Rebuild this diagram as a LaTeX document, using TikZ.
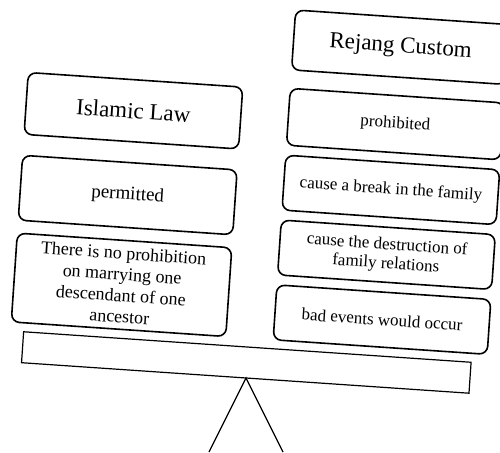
\documentclass[tikz,border=0pt]{standalone}
\usepackage{fontspec}
\setmainfont{Liberation Serif}
\begin{document}
\begin{tikzpicture}[x=1pt,y=1pt,
  card/.style={draw, line width=1.6pt, rounded corners=8pt, align=center, inner sep=2pt, transform shape},
  lcard/.style={card, minimum width=215pt},
  rcard/.style={card, minimum width=214.5pt},
  head/.style={font=\fontsize{23}{26}\selectfont},
  small/.style={font=\fontsize{17}{19}\selectfont},
  plankstyle/.style={draw, line width=1.2pt},
  leg/.style={line width=1.2pt}]
\useasboundingbox (0,0) rectangle (500,452);
\coordinate (pivot) at (246,74);
\coordinate (footL) at (209,0);
\coordinate (footR) at (283,0);
\begin{scope}[shift={(pivot)}, rotate=-3.9]
  \draw[plankstyle] (-225,0) rectangle (223.5,31);
  % left column
  \node[lcard, head, minimum height=62pt] (islam) at (-130.5,259) {Islamic Law};
  \node[lcard, font=\fontsize{19}{21}\selectfont, minimum height=65pt] (perm) at (-130.5,174.5) {permitted};
  \node[lcard, font=\fontsize{18}{21.2}\selectfont, minimum height=89pt] (noprob) at (-130.5,84.5) {There is no prohibition\\on marrying one\\descendant of one\\ancestor};
  % right column
  \node[rcard, head, minimum height=60pt] (rejang) at (131.75,340.5) {Rejang Custom};
  \node[rcard, small, minimum height=57pt] (proh) at (131.75,263.5) {prohibited};
  \node[rcard, small, minimum height=55pt] (break) at (131.75,197.5) {cause a break in the family};
  \node[rcard, small, minimum height=55pt] (destr) at (131.75,132.5) {cause the destruction of\\family relations};
  \node[rcard, small, minimum height=55pt] (bad) at (131.75,67.5) {bad events would occur};
\end{scope}
\draw[leg] (footL) -- (pivot) -- (footR);
\end{tikzpicture}
\end{document}
